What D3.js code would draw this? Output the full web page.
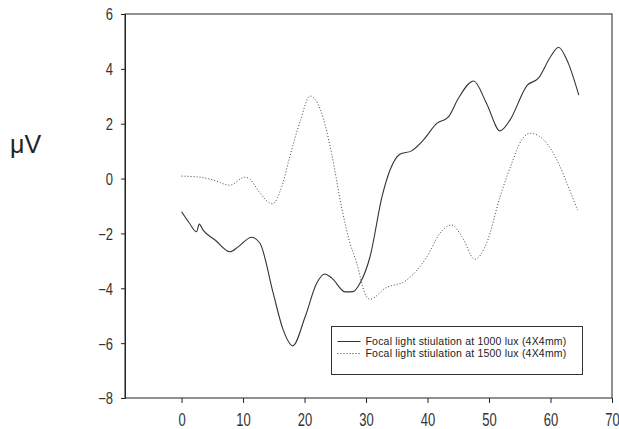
<!DOCTYPE html>
<html>
<head>
<meta charset="utf-8">
<script src="https://cdn.jsdelivr.net/npm/d3@7"></script>
<style>
  body { margin: 0; background: #fff; }
  svg { display: block; font-family: "Liberation Sans", Arial, sans-serif; }
  .tick text { fill: #333; }
</style>
</head>
<body>
<svg id="chart" width="619" height="429"></svg>
<script>
// values: [time, µV]
const lux1000 = [
  [0, -1.21], [1.2, -1.6], [2.44, -1.94], [2.87, -1.66], [3.5, -1.88], [5.5, -2.25],
  [7.86, -2.67], [9.2, -2.49], [11.4, -2.14], [12.75, -2.36], [14.9, -4.18],
  [16.5, -5.5], [18.07, -6.1], [20.1, -5.04], [21.97, -3.82], [23.3, -3.48],
  [24.4, -3.62], [26.6, -4.13], [27.9, -4.12], [29.0, -3.82], [30.65, -2.85],
  [32.6, -0.66], [33.9, 0.31], [35.5, 0.89], [37.4, 1.01], [39.3, 1.40],
  [41.5, 2.01], [43.4, 2.25], [45.0, 2.92], [47.5, 3.56], [49.6, 2.74],
  [51.8, 1.74], [53.4, 2.13], [56.2, 3.4], [58.0, 3.65], [60.0, 4.44],
  [61.3, 4.79], [62.9, 4.2], [64.6, 3.04]
];

const lux1500 = [
  [0, 0.09], [3.0, 0.05], [5.1, -0.05], [7.86, -0.24], [10.3, 0.05], [11.1, -0.02],
  [12.75, -0.53], [14.8, -0.92], [16.3, -0.29], [17.6, 0.8], [19.3, 2.1],
  [20.9, 3.01], [22.6, 2.5], [24.4, 0.92], [26.0, -1.02], [27.4, -2.36],
  [28.5, -3.09], [29.8, -4.18], [30.65, -4.4], [33.1, -4.0], [36.6, -3.7],
  [39.9, -2.85], [42.0, -2.0], [43.9, -1.69], [45.6, -2.12], [47.7, -2.94],
  [49.6, -2.36], [51.8, -0.66], [53.7, 0.56], [55.3, 1.41], [56.7, 1.65],
  [58.9, 1.41], [61.3, 0.56], [62.9, -0.3], [64.4, -1.15]
];

const xTicks = [0, 10, 20, 30, 40, 50, 60, 70];
const yTicks = [-8, -6, -4, -2, 0, 2, 4, 6];
const legendLabels = [
  "Focal light stiulation at 1000 lux (4X4mm)",
  "Focal light stiulation at 1500 lux (4X4mm)"
];

const svg = d3.select("#chart");
const plotLeft = 125, plotRight = 612, plotTop = 14, plotBottom = 398;

const x = d3.scaleLinear().domain([-9.2, 70]).range([plotLeft, plotRight]);
const y = d3.scaleLinear().domain([-8, 6]).range([plotBottom, plotTop]);

// frame
svg.append("rect")
  .attr("x", plotLeft).attr("y", plotTop)
  .attr("width", plotRight - plotLeft).attr("height", plotBottom - plotTop)
  .attr("fill", "none").attr("stroke", "#222").attr("stroke-width", 1);

/////////////////////////////////////////////////////////
// AXES

const yAxis = svg.append("g")
  .attr("transform", `translate(${plotLeft},0)`)
  .call(d3.axisLeft(y).tickValues(yTicks).tickSize(4).tickPadding(8));

yAxis.select(".domain").attr("stroke", "#222");
yAxis.selectAll(".tick line").attr("stroke", "#222");
yAxis.selectAll("text")
  .attr("font-size", 13)
  .attr("dy", "0.36em")
  .attr("transform", "scale(1,1.25)");

const xAxis = svg.append("g")
  .attr("transform", `translate(0,${plotBottom})`)
  .call(d3.axisBottom(x).tickValues(xTicks).tickSize(5).tickPadding(0));

xAxis.select(".domain").remove();
xAxis.selectAll(".tick line").attr("stroke", "#222");
xAxis.selectAll("text")
  .attr("font-size", 13)
  .attr("y", 0)
  .attr("dy", 0)
  .attr("transform", "translate(0,28) scale(1,1.4)");

svg.append("text")
  .attr("x", 10).attr("y", 153)
  .attr("font-size", 25)
  .attr("fill", "#222")
  .text("μV");

/////////////////////////////////////////////////////////
// LINES

const line = d3.line()
  .x(d => x(d[0]))
  .y(d => y(d[1]))
  .curve(d3.curveMonotoneX);

svg.append("path")
  .datum(lux1000)
  .attr("d", line)
  .attr("fill", "none")
  .attr("stroke", "#333")
  .attr("stroke-width", 1.1);

svg.append("path")
  .datum(lux1500)
  .attr("d", line)
  .attr("fill", "none")
  .attr("stroke", "#444")
  .attr("stroke-width", 1)
  .attr("stroke-dasharray", "1,2");

/////////////////////////////////////////////////////////
// LEGEND

const legend = svg.append("g").attr("transform", "translate(331.5,326.5)");

legend.append("rect")
  .attr("width", 251).attr("height", 48)
  .attr("fill", "#fff").attr("stroke", "#333").attr("stroke-width", 1);

const item = legend.selectAll("g.item").data(legendLabels).enter().append("g")
  .attr("class", "item")
  .attr("transform", (d, i) => `translate(0,${15 + i * 12})`);

item.append("line")
  .attr("x1", 6).attr("x2", 29)
  .attr("stroke", "#333")
  .attr("stroke-dasharray", (d, i) => i ? "1,2" : null);

item.append("text")
  .attr("x", 34).attr("dy", "0.36em")
  .attr("font-size", 10.5)
  .attr("letter-spacing", 0.2)
  .attr("fill", "#222")
  .text(d => d);
</script>
</body>
</html>
